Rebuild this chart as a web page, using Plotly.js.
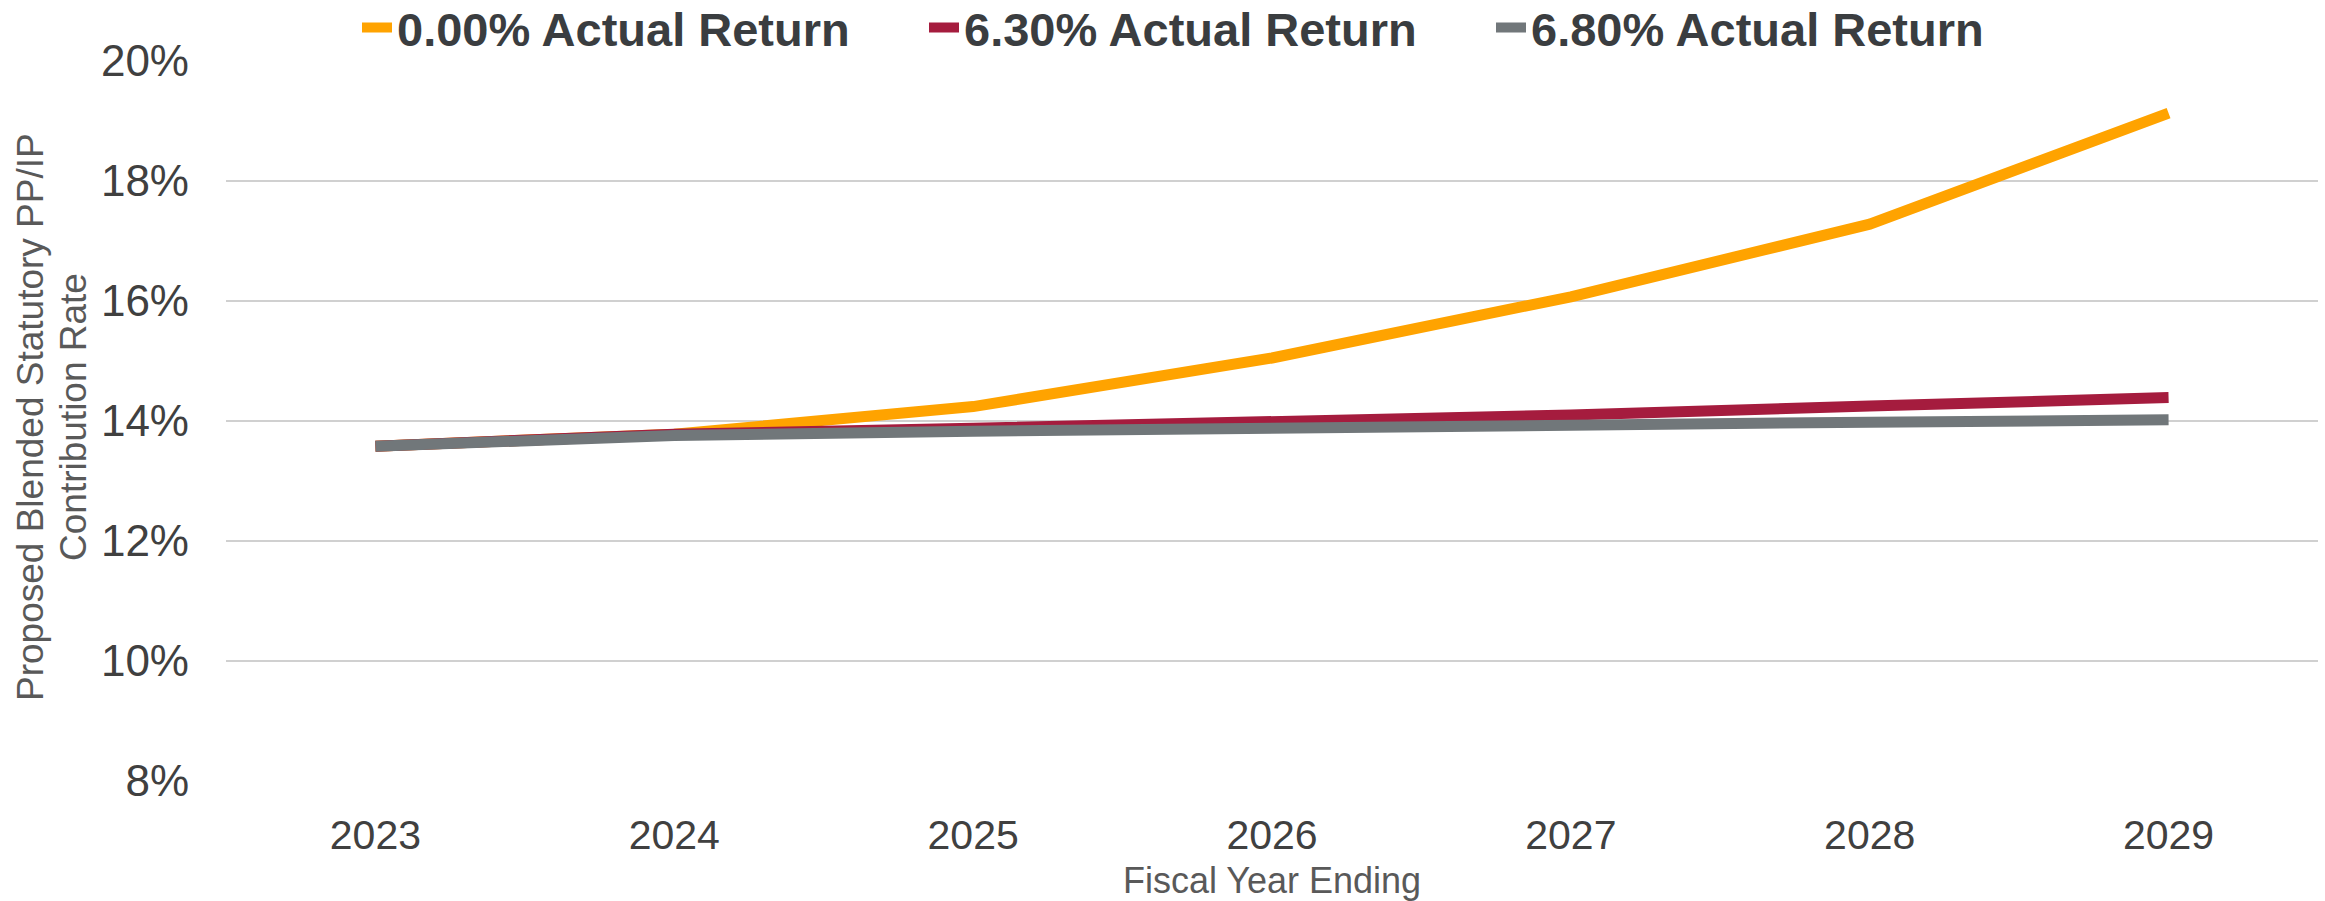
<!DOCTYPE html>
<html>
<head>
<meta charset="utf-8">
<script src="https://cdn.plot.ly/plotly-3.0.1.min.js"></script>
<style>html,body{margin:0;padding:0;background:#fff;}#chart{width:2325px;height:901px;}</style>
</head>
<body>
<div id="chart"></div>
<script>
const years = ["2023", "2024", "2025", "2026", "2027", "2028", "2029"];
const seriesNames = ["0.00% Actual Return", "6.30% Actual Return", "6.80% Actual Return"];
const return000 = [13.58, 13.78, 14.24, 15.05, 16.07, 17.28, 19.13];
const return630 = [13.58, 13.78, 13.88, 13.98, 14.10, 14.25, 14.39];
const return680 = [13.58, 13.76, 13.83, 13.89, 13.94, 13.98, 14.02];
const seriesColors = ["#FFA300", "#A51C3E", "#71777A"];
const yTitleLines = ["Proposed Blended Statutory PP/IP", "Contribution Rate"];
const xTitle = "Fiscal Year Ending";

const seriesData = [return000, return630, return680];
const traces = seriesData.map((vals, i) => ({
  type: "scatter",
  mode: "lines",
  x: years,
  y: vals,
  name: seriesNames[i],
  line: {color: seriesColors[i], width: 11},
  hoverinfo: "skip"
}));

const yTitleShifts = [30 - 226, 73 - 226];
const annotations = yTitleLines.map((t, i) => ({
  text: t,
  xref: "paper", yref: "paper",
  x: 0, y: 0.5,
  xanchor: "center", yanchor: "middle",
  xshift: yTitleShifts[i],
  yshift: 4,
  textangle: -90,
  showarrow: false,
  font: {size: 37, color: "#595959", family: "Liberation Sans, Arial, sans-serif"}
}));

const layout = {
  width: 2325,
  height: 901,
  margin: {l: 226, r: 7, t: 61, b: 120, autoexpand: false},
  paper_bgcolor: "#ffffff",
  plot_bgcolor: "#ffffff",
  font: {family: "Liberation Sans, Arial, sans-serif", color: "#404040"},
  showlegend: true,
  legend: {
    orientation: "h",
    x: (357 - 226) / 2092,
    xanchor: "left",
    y: 1.046,
    yanchor: "middle",
    font: {size: 47, color: "#3A3D40", family: "Liberation Sans, Arial, sans-serif", weight: "bold"},
    entrywidth: 522,
    entrywidthmode: "pixels",
    bgcolor: "rgba(0,0,0,0)",
    traceorder: "normal"
  },
  annotations: annotations,
  xaxis: {
    type: "category",
    range: [-0.5, 6.5],
    showgrid: false,
    showline: false,
    zeroline: false,
    ticks: "",
    tickfont: {size: 41, color: "#404040"},
    ticklabelstandoff: 26,
    title: {text: xTitle, font: {size: 36, color: "#595959"}, standoff: 14},
    automargin: false
  },
  yaxis: {
    range: [8, 20],
    dtick: 2,
    tick0: 8,
    ticksuffix: "%",
    showgrid: true,
    gridcolor: "#D0D0D0",
    gridwidth: 2,
    zeroline: false,
    showline: false,
    ticks: "",
    tickfont: {size: 44, color: "#404040"},
    ticklabelstandoff: 36,
    automargin: false
  }
};

Plotly.newPlot("chart", traces, layout, {staticPlot: true, displayModeBar: false});
</script>
</body>
</html>
